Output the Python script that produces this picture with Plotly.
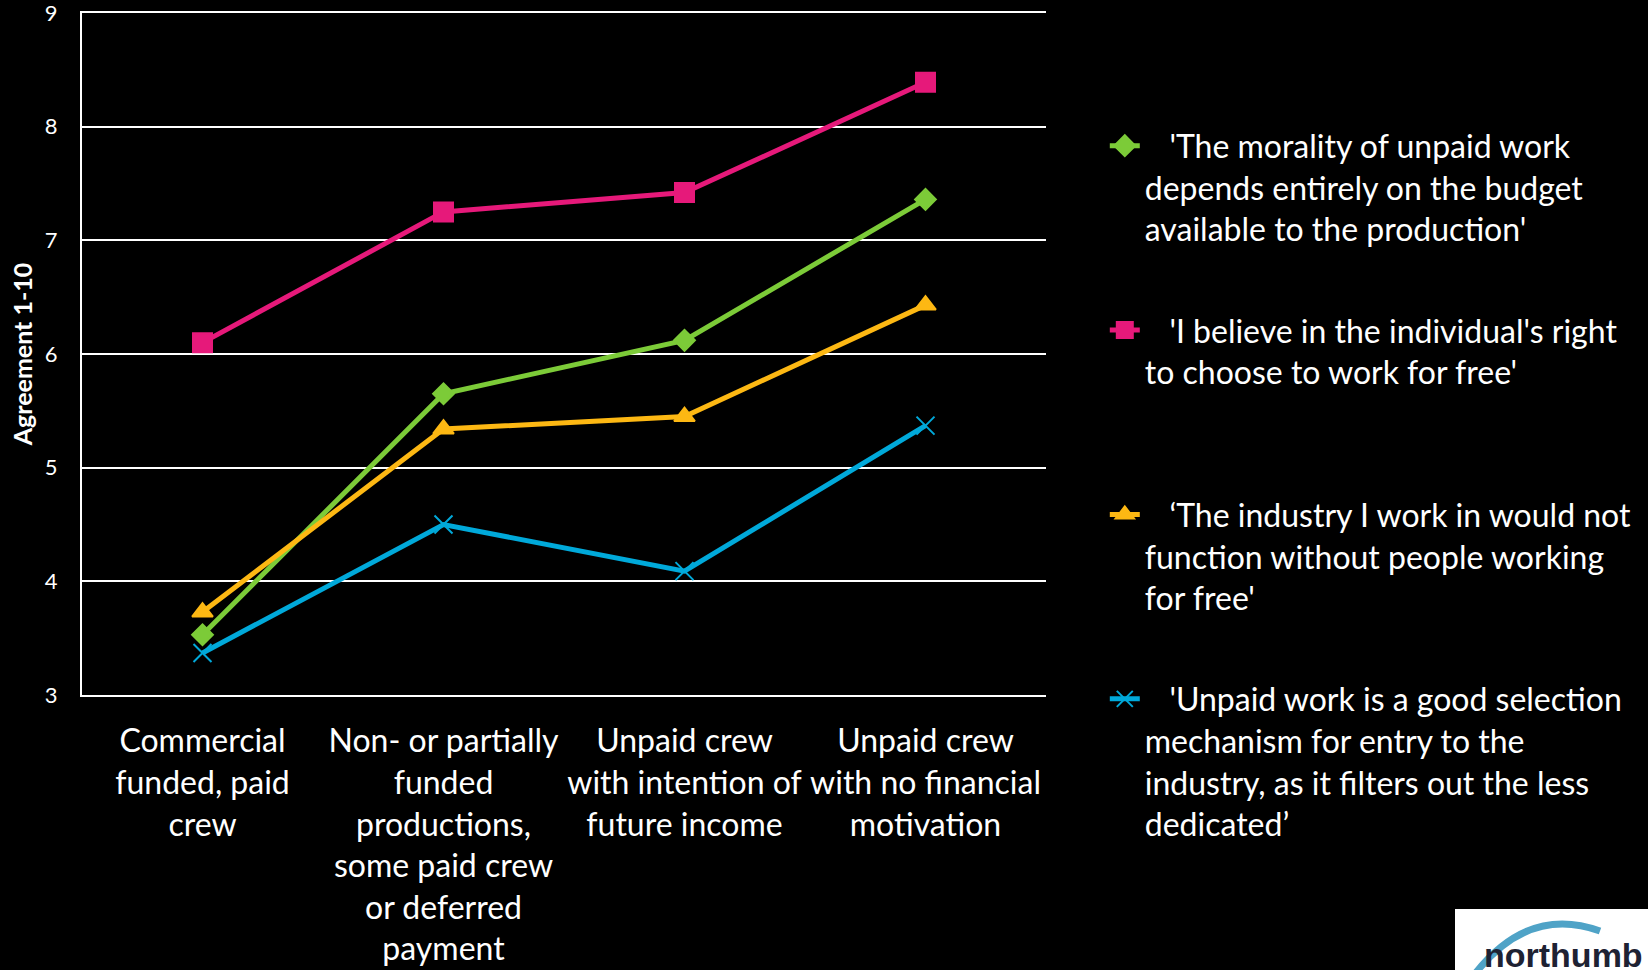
import plotly.graph_objects as go

categories = [
    "Commercial<br>funded, paid<br>crew",
    "Non- or partially<br>funded<br>productions,<br>some paid crew<br>or deferred<br>payment",
    "Unpaid crew<br>with intention of<br>future income",
    "Unpaid crew<br>with no financial<br>motivation",
]

series_names = [
    "\u00a0\u00a0\u00a0'The morality of unpaid work<br>depends entirely on the budget<br>available to the production'<br>\u00a0",
    "\u00a0\u00a0\u00a0'I believe in the individual's right<br>to choose to work for free'<br>\u00a0<br>\u00a0",
    "\u00a0\u00a0\u00a0\u2018The industry I work in would not<br>function without people working<br>for free'<br>\u00a0",
    "\u00a0\u00a0\u00a0'Unpaid work is a good selection<br>mechanism for entry to the<br>industry, as it filters out the less<br>dedicated\u2019",
]

morality = [3.53, 5.65, 6.12, 7.36]
individual_right = [6.10, 7.25, 7.42, 8.39]
industry_function = [3.73, 5.34, 5.45, 6.43]
selection = [3.37, 4.50, 4.09, 5.37]

values = [morality, individual_right, industry_function, selection]
colors = ["#7CCB38", "#E6197A", "#FDB813", "#00A9DA"]
symbols = ["diamond", "square", "triangle-up", "x-thin-open"]
sizes = [16, 19, 18, 18]

FONT = "Lato, 'Open Sans', sans-serif"

fig = go.Figure()
for i in range(4):
    fig.add_trace(go.Scatter(
        x=list(range(4)), y=values[i], name=series_names[i],
        mode="lines+markers",
        line=dict(color=colors[i], width=5),
        marker=dict(symbol=symbols[i], size=sizes[i], color=colors[i],
                    line=dict(color=colors[i], width=2)),
        legendgroup=f"g{i}",
    ))

fig.update_layout(
    template="none",
    width=1648, height=970,
    paper_bgcolor="black", plot_bgcolor="black",
    margin=dict(l=82, r=602, t=13, b=275, autoexpand=False),
    font=dict(family=FONT, color="white"),
    showlegend=True,
    legend=dict(
        x=1.061, y=0.8455, xanchor="left", yanchor="top",
        font=dict(size=32, color="white", family=FONT),
        valign="top", tracegroupgap=15, bgcolor="rgba(0,0,0,0)",
        maxheight=960,
    ),
    xaxis=dict(
        tickmode="array", tickvals=list(range(4)), ticktext=categories,
        range=[-0.5, 3.5], showgrid=False, zeroline=False,
        showline=True, mirror=True, linecolor="white", linewidth=2,
        ticks="", automargin=False, ticklabelstandoff=17,
        tickfont=dict(size=32, color="white", family=FONT),
    ),
    yaxis=dict(
        range=[3, 9], dtick=1, showgrid=True, gridcolor="white", gridwidth=2,
        zeroline=False, showline=True, linecolor="white", linewidth=2,
        ticks="", ticklabelstandoff=18, automargin=False,
        ticklabeloverflow="allow",
        tickfont=dict(size=22, color="white", family=FONT),
        title=dict(text="<b>Agreement 1-10</b>", font=dict(size=25, color="white", family=FONT), standoff=5),
    ),
)

# Partial logo in bottom-right corner
def px(x):
    return (x - 82) / 964

def py(y):
    return (695 - y) / 682

fig.add_shape(type="rect", xref="paper", yref="paper",
              x0=px(1455), x1=px(1660), y0=py(980), y1=py(909),
              fillcolor="white", line=dict(width=0), layer="above")
fig.add_annotation(xref="paper", yref="paper", x=px(1482), y=py(955),
                   xanchor="left", yanchor="middle", text="<b>northumb</b>", showarrow=False,
                   font=dict(size=34, color="#1E2233", family="Liberation Sans, Arial"))
fig.add_shape(type="path", xref="paper", yref="paper",
              path="M {:.4f},{:.4f} Q {:.4f},{:.4f} {:.4f},{:.4f}".format(
                  px(1474), py(975), px(1528), py(905), px(1600), py(931)),
              line=dict(color="#4FA3C7", width=7), layer="above")

fig.write_html("out.html", config={"displayModeBar": False},
               post_script="document.body.style.margin='0';document.body.style.background='black';document.body.style.overflow='hidden';")
